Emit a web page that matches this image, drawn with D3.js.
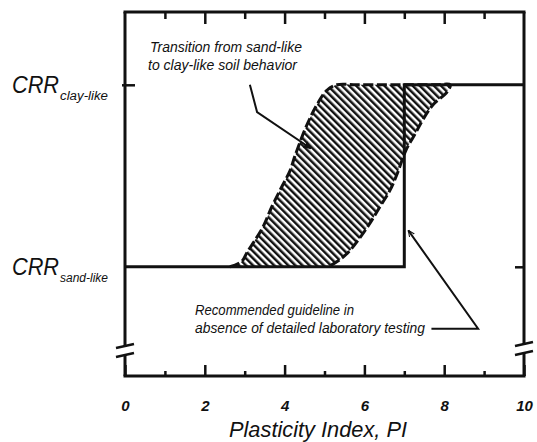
<!DOCTYPE html>
<html>
<head>
<meta charset="utf-8">
<script src="https://cdn.jsdelivr.net/npm/d3@7/dist/d3.min.js"></script>
<style>
  body { margin: 0; background: #fff; }
  text { font-family: "Liberation Sans", Arial, sans-serif; font-style: italic; fill: #111; }
</style>
</head>
<body>
<div id="chart"></div>
<script>
// ---------------- data ----------------
var piMajorTicks = [0, 2, 4, 6, 8, 10];
var piMinorTicks = [1, 3, 5, 7, 9];
var topTicks = [1, 2, 3, 4, 5, 6, 7, 8, 9];

// CRR levels (normalised: sand-like = 0, clay-like = 1)
var crrLevels = [0, 1];
var crrNames = ["sand-like", "clay-like"];

// recommended guideline (solid step)
var guidePI  = [0, 7, 7, 10];
var guideCRR = [0, 0, 1, 1];

// transition band: left (lower PI) boundary, going up
var leftPI  = [2.63, 2.93, 3.06, 3.21, 3.46, 3.68, 3.93, 4.14, 4.26, 4.56, 4.81, 5.06, 5.31];
var leftCRR = [0, 0.03, 0.08, 0.13, 0.22, 0.33, 0.44, 0.53, 0.61, 0.78, 0.89, 0.97, 1.0];
// top edge, at the clay-like level
var topPI  = [5.8, 6.5, 7.2, 7.8];
var topCRR = [1, 1, 1, 1];
// right (higher PI) boundary, going down
var rightPI  = [8.15, 8.07, 7.72, 7.47, 7.27, 7.04, 6.82, 6.64, 6.39, 6.14, 5.89, 5.64, 5.39, 5.14];
var rightCRR = [1.0, 0.96, 0.89, 0.81, 0.73, 0.64, 0.51, 0.42, 0.33, 0.24, 0.16, 0.09, 0.04, 0.005];

// ---------------- setup ----------------
var width = 537, height = 442;
var svg = d3.select("#chart").append("svg")
    .attr("width", width)
    .attr("height", height);

var x = d3.scaleLinear().domain([0, 10]).range([125, 524]);
var y = d3.scaleLinear().domain([-0.6, 1.4]).range([376, 12]);

var ink = "#111";

// hatch pattern
var defs = svg.append("defs");
defs.append("pattern")
    .attr("id", "hatch")
    .attr("patternUnits", "userSpaceOnUse")
    .attr("width", 5).attr("height", 5)
    .attr("patternTransform", "rotate(-45)")
    .append("rect")
    .attr("x", 0).attr("y", 0)
    .attr("width", 2.5).attr("height", 5)
    .attr("fill", ink);

defs.append("marker")
    .attr("id", "tipFilled")
    .attr("viewBox", "0 0 10 10")
    .attr("refX", 9).attr("refY", 5)
    .attr("markerWidth", 4).attr("markerHeight", 4)
    .attr("orient", "auto")
    .append("path")
    .attr("d", "M0,0 L10,5 L0,10 z")
    .attr("fill", ink);

defs.append("marker")
    .attr("id", "tipOpen")
    .attr("viewBox", "0 0 12 12")
    .attr("refX", 11).attr("refY", 6)
    .attr("markerWidth", 7).attr("markerHeight", 7)
    .attr("markerUnits", "userSpaceOnUse")
    .attr("orient", "auto")
    .append("path")
    .attr("d", "M0,1 L11,6 L0,11")
    .attr("fill", "none")
    .attr("stroke", ink)
    .attr("stroke-width", 1.8);

// ---------------- transition band ----------------
var bandPts = [];
leftPI.forEach(function(d, i){ bandPts.push([d, leftCRR[i]]); });
topPI.forEach(function(d, i){ bandPts.push([d, topCRR[i]]); });
rightPI.forEach(function(d, i){ bandPts.push([d, rightCRR[i]]); });

var line = d3.line()
    .x(function(d){ return x(d[0]); })
    .y(function(d){ return y(d[1]); })
    .curve(d3.curveCatmullRom.alpha(0.5));

svg.append("path")
    .attr("d", line(bandPts) + "Z")
    .attr("fill", "url(#hatch)");

svg.append("path")
    .attr("d", line(bandPts))
    .attr("fill", "none")
    .attr("stroke", ink)
    .attr("stroke-width", 3)
    .attr("stroke-dasharray", "10,3.5");

// ---------------- guideline ----------------
var guidePts = guidePI.map(function(d, i){ return [d, guideCRR[i]]; });
svg.append("path")
    .attr("d", d3.line().x(function(d){ return x(d[0]); }).y(function(d){ return y(d[1]); })(guidePts))
    .attr("fill", "none")
    .attr("stroke", ink)
    .attr("stroke-width", 3);

// ---------------- frame ----------------
var frame = svg.append("g")
    .attr("stroke", ink)
    .attr("stroke-width", 3)
    .attr("fill", "none");

frame.append("line").attr("x1", x(0) - 1.5).attr("x2", x(10) + 1.5).attr("y1", y(1.4)).attr("y2", y(1.4));
frame.append("line").attr("x1", x(0) - 1.5).attr("x2", x(10) + 1.5).attr("y1", y(-0.6)).attr("y2", y(-0.6));
// left axis with break
frame.append("line").attr("x1", x(0)).attr("x2", x(0)).attr("y1", y(1.4)).attr("y2", 347);
frame.append("line").attr("x1", x(0)).attr("x2", x(0)).attr("y1", 355).attr("y2", y(-0.6));
frame.append("line").attr("x1", x(0) - 9).attr("x2", x(0) + 9).attr("y1", 348).attr("y2", 344).attr("stroke-width", 2.5);
frame.append("line").attr("x1", x(0) - 9).attr("x2", x(0) + 9).attr("y1", 357).attr("y2", 353).attr("stroke-width", 2.5);
// right axis with break
frame.append("line").attr("x1", x(10)).attr("x2", x(10)).attr("y1", y(1.4)).attr("y2", 345);
frame.append("line").attr("x1", x(10)).attr("x2", x(10)).attr("y1", 353).attr("y2", y(-0.6));
frame.append("line").attr("x1", x(10) - 9).attr("x2", x(10) + 9).attr("y1", 346).attr("y2", 342).attr("stroke-width", 2.5);
frame.append("line").attr("x1", x(10) - 9).attr("x2", x(10) + 9).attr("y1", 355).attr("y2", 351).attr("stroke-width", 2.5);

// ---------------- axes ----------------
function styleAxis(g){
    g.select(".domain").remove();
    g.selectAll(".tick line").attr("stroke", ink).attr("stroke-width", 2.5);
}

svg.append("g")
    .attr("transform", "translate(0," + y(-0.6) + ")")
    .call(d3.axisBottom(x).tickValues(piMajorTicks).tickSize(-11).tickPadding(24).tickFormat(d3.format("d")))
    .call(styleAxis)
    .selectAll("text")
    .attr("font-size", 15)
    .attr("font-weight", "bold")
    .style("font-family", "\"Liberation Sans\", Arial, sans-serif")
    .style("font-style", "italic")
    .attr("fill", ink);

svg.append("g")
    .attr("transform", "translate(0," + y(-0.6) + ")")
    .call(d3.axisBottom(x).tickValues(piMinorTicks).tickSize(-5).tickFormat(""))
    .call(styleAxis);

svg.append("g")
    .attr("transform", "translate(0," + y(1.4) + ")")
    .call(d3.axisTop(x).tickValues(topTicks).tickSize(-7).tickFormat(""))
    .call(styleAxis)
    .selectAll(".tick line")
    .attr("y2", function(d){ return d % 2 === 0 ? 12 : 7; });

svg.append("g")
    .attr("transform", "translate(" + x(0) + ",0)")
    .call(d3.axisLeft(y).tickValues([1]).tickSize(-10).tickFormat(""))
    .call(styleAxis)
    .selectAll(".tick line")
    .attr("x1", -3);

svg.append("g")
    .attr("transform", "translate(" + x(10) + ",0)")
    .call(d3.axisRight(y).tickValues([0]).tickSize(-9).tickFormat(""))
    .call(styleAxis);

// CRR labels
crrLevels.forEach(function(v, i){
    svg.append("text")
        .attr("x", 12)
        .attr("y", y(v) + 8)
        .attr("font-size", 24)
        .attr("textLength", 47)
        .attr("lengthAdjust", "spacingAndGlyphs")
        .text("CRR");
    svg.append("text")
        .attr("x", 60)
        .attr("y", y(v) + 15)
        .attr("font-size", 12)
        .attr("textLength", 48)
        .attr("lengthAdjust", "spacingAndGlyphs")
        .text(crrNames[i]);
});

// x axis title
svg.append("text")
    .attr("x", 318)
    .attr("y", 437)
    .attr("text-anchor", "middle")
    .attr("font-size", 22)
    .attr("textLength", 178)
    .attr("lengthAdjust", "spacingAndGlyphs")
    .text("Plasticity Index, PI");

// ---------------- annotations ----------------
svg.append("text").attr("x", 150).attr("y", 52).attr("font-size", 14)
    .attr("textLength", 152).attr("lengthAdjust", "spacingAndGlyphs")
    .text("Transition from sand-like");
svg.append("text").attr("x", 148).attr("y", 70).attr("font-size", 14)
    .attr("textLength", 149).attr("lengthAdjust", "spacingAndGlyphs")
    .text("to clay-like soil behavior");

var leaderA = [[3.13, 1.0], [3.31, 0.85], [4.66, 0.65]];
svg.append("path")
    .attr("d", d3.line().x(function(d){ return x(d[0]); }).y(function(d){ return y(d[1]); })(leaderA))
    .attr("fill", "none")
    .attr("stroke", ink)
    .attr("stroke-width", 2)
    .attr("marker-end", "url(#tipFilled)");

svg.append("text").attr("x", 195).attr("y", 315).attr("font-size", 14)
    .attr("textLength", 159).attr("lengthAdjust", "spacingAndGlyphs")
    .text("Recommended guideline in");
svg.append("text").attr("x", 195).attr("y", 333).attr("font-size", 14)
    .attr("textLength", 230).attr("lengthAdjust", "spacingAndGlyphs")
    .text("absence of detailed laboratory testing");

var leaderB = [[7.68, -0.34], [8.85, -0.34], [7.1, 0.2]];
svg.append("path")
    .attr("d", d3.line().x(function(d){ return x(d[0]); }).y(function(d){ return y(d[1]); })(leaderB))
    .attr("fill", "none")
    .attr("stroke", ink)
    .attr("stroke-width", 2)
    .attr("marker-end", "url(#tipOpen)");
</script>
</body>
</html>
